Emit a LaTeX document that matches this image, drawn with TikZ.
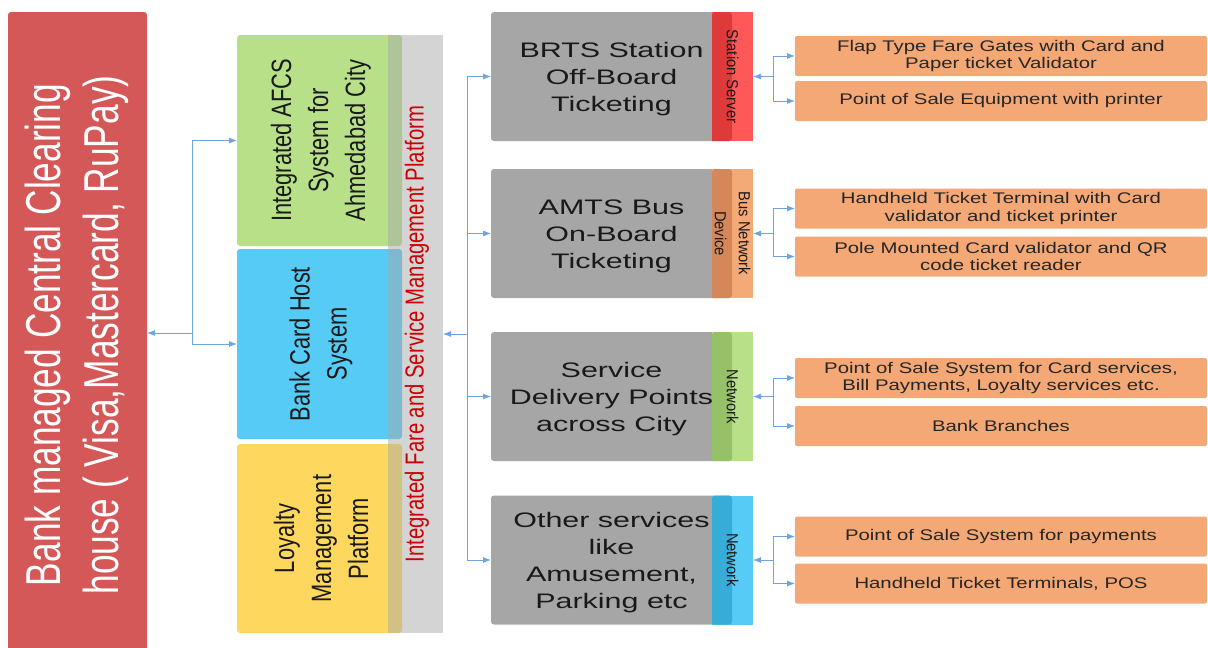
\documentclass[tikz,border=0pt]{standalone}
\usepackage{fontspec}
\usepackage{xcolor}
\setmainfont{Liberation Sans}
\newfontfamily\narrowsf[FakeStretch=0.78]{Liberation Sans}
\newfontfamily\redsf[FakeStretch=0.72]{Liberation Sans}
\newfontfamily\widesf[FakeStretch=1.45]{Liberation Sans}
\newfontfamily\orangesf[FakeStretch=1.32]{Liberation Sans}
\newfontfamily\tabsf[FakeStretch=0.92]{Liberation Sans}
\usetikzlibrary{arrows.meta}
\definecolor{clearred}{RGB}{212,88,88}
\definecolor{afcsgreen}{RGB}{183,224,137}
\definecolor{cardblue}{RGB}{86,203,246}
\definecolor{loyalyellow}{RGB}{254,216,94}
\definecolor{bargrey}{RGB}{169,169,169}
\definecolor{platred}{RGB}{204,0,0}
\definecolor{boxgrey}{RGB}{166,166,166}
\definecolor{tabred}{RGB}{255,88,88}
\definecolor{tabreddk}{RGB}{222,58,58}
\definecolor{taborange}{RGB}{244,170,118}
\definecolor{taborangedk}{RGB}{213,135,90}
\definecolor{tabgreen}{RGB}{183,224,137}
\definecolor{tabgreendk}{RGB}{150,193,104}
\definecolor{tabblue}{RGB}{86,203,246}
\definecolor{tabbluedk}{RGB}{55,172,216}
\definecolor{orangebox}{RGB}{243,168,117}
\definecolor{linkblue}{RGB}{110,165,222}

\begin{document}
\begin{tikzpicture}[x=1pt,y=-1pt,
  box/.style={rounded corners=3pt,inner sep=0pt,outer sep=0pt},
  lbox/.style={box,minimum width=165pt},
  gbox/.style={box,fill=boxgrey,minimum width=241pt,minimum height=129pt},
  tab/.style={inner sep=0pt,outer sep=0pt,minimum width=41pt,minimum height=129pt},
  obox/.style={rounded corners=2pt,fill=orangebox,inner sep=0pt,outer sep=0pt,minimum width=412pt,minimum height=40pt,align=center,text=black!85,font=\orangesf\fontsize{15.4}{17.3}\selectfont},
  ltext/.style={rotate=90,align=center,text=black!90,font=\narrowsf\fontsize{28}{37}\selectfont},
  gtext/.style={yshift=-2.5pt,align=center,text=black!90,font=\widesf\fontsize{21}{27}\selectfont},
  ttext/.style={rotate=-90,align=center,text=black!90,font=\tabsf\fontsize{16}{24}\selectfont},
  conn/.style={draw=linkblue,line width=0.8pt,-{Latex[length=8pt,width=6pt]}}]
\useasboundingbox (0,0) rectangle (1208,648);
% clearing house
\node[box,fill=clearred,minimum width=139pt,minimum height=640pt] (clear) at (77.5,332) {};
\node[rotate=90,align=center,text=white,font=\redsf\fontsize{49}{58}\selectfont] (clear-t) at (77,335) {Bank managed Central Clearing\\house ( Visa,Mastercard, RuPay)};
% host systems and platform bar
\node[lbox,fill=afcsgreen,minimum height=211pt] (afcs) at (319.5,140.5) {};
\node[lbox,fill=cardblue,minimum height=190pt] (card) at (319.5,344) {};
\node[lbox,fill=loyalyellow,minimum height=189pt] (loyal) at (319.5,538.5) {};
\node[ltext] (afcs-t) at (321,140.5) {Integrated AFCS\\System for\\Ahmedabad City};
\node[ltext] (card-t) at (321,344) {Bank Card Host\\System};
\node[ltext] (loyal-t) at (321,538.5) {Loyalty\\Management\\Platform};
\node[fill=bargrey,fill opacity=0.5,inner sep=0pt,outer sep=0pt,minimum width=55pt,minimum height=598pt] (plat) at (415.5,334) {};
\node[rotate=90,text=platred,font=\narrowsf\fontsize{26}{30}\selectfont] (plat-t) at (417,334) {Integrated Fare and Service Management Platform};
% ticketing channels
\node[gbox] (brts) at (611.5,76.5) {};
\node[gbox] (amts) at (611.5,233.5) {};
\node[gbox] (sdp) at (611.5,396.5) {};
\node[gbox] (other) at (611.5,560) {};
\node[gtext] (brts-t) at (brts) {BRTS Station\\Off-Board\\Ticketing};
\node[gtext] (amts-t) at (amts) {AMTS Bus\\On-Board\\Ticketing};
\node[gtext] (sdp-t) at (sdp) {Service\\Delivery Points\\across City};
\node[gtext] (other-t) at (other) {Other services\\like\\Amusement,\\Parking etc};
\node[tab,fill=tabred] (srv) at (732.5,76.5) {};
\fill[tabreddk,rounded corners=3pt] (srv.south west) -- ([xshift=20pt]srv.south west) -- ([xshift=20pt]srv.north west) -- (srv.north west) [sharp corners] -- cycle;
\node[ttext] (srv-t) at (srv) {Station Server};
\node[tab,fill=taborange] (bnd) at (732.5,233.5) {};
\fill[taborangedk,rounded corners=3pt] (bnd.south west) -- ([xshift=20pt]bnd.south west) -- ([xshift=20pt]bnd.north west) -- (bnd.north west) [sharp corners] -- cycle;
\node[ttext] (bnd-t) at (bnd) {Bus Network\\Device};
\node[tab,fill=tabgreen] (net1) at (732.5,396.5) {};
\fill[tabgreendk,rounded corners=3pt] (net1.south west) -- ([xshift=20pt]net1.south west) -- ([xshift=20pt]net1.north west) -- (net1.north west) [sharp corners] -- cycle;
\node[ttext] (net1-t) at (net1) {Network};
\node[tab,fill=tabblue] (net2) at (732.5,560) {};
\fill[tabbluedk,rounded corners=3pt] (net2.south west) -- ([xshift=20pt]net2.south west) -- ([xshift=20pt]net2.north west) -- (net2.north west) [sharp corners] -- cycle;
\node[ttext] (net2-t) at (net2) {Network};
% field equipment
\node[obox] (gate) at (1001,56) {Flap Type Fare Gates with Card and\\Paper ticket Validator};
\node[obox] (pose) at (1001,101) {Point of Sale Equipment with printer};
\node[obox] (htt) at (1001,208.5) {Handheld Ticket Terminal with Card\\validator and ticket printer};
\node[obox] (pole) at (1001,256.5) {Pole Mounted Card validator and QR\\code ticket reader};
\node[obox] (poss) at (1001,378) {Point of Sale System for Card services,\\Bill Payments, Loyalty services etc.};
\node[obox] (bank) at (1001,426) {Bank Branches};
\node[obox] (posp) at (1001,536.5) {Point of Sale System for payments};
\node[obox] (htts) at (1001,583.5) {Handheld Ticket Terminals, POS};
% connectors
\coordinate (jl) at (192,333);
\coordinate (jm) at (467,334);
\coordinate (j1) at (773,76.5);
\coordinate (j2) at (773,233.5);
\coordinate (j3) at (773,396.5);
\coordinate (j4) at (773,560);
\draw[conn] (jl) -- (jl -| clear.east);
\draw[conn] (jl) |- (afcs.west);
\draw[conn] (jl) |- (card.west);
\draw[conn] (jm) -- (jm -| plat.east);
\draw[conn] (jm) |- (brts.west);
\draw[conn] (jm) |- (amts.west);
\draw[conn] (jm) |- (sdp.west);
\draw[conn] (jm) |- (other.west);
\draw[conn] (j1) -- (srv.east);
\draw[conn] (j1) |- (gate.west);
\draw[conn] (j1) |- (pose.west);
\draw[conn] (j2) -- (bnd.east);
\draw[conn] (j2) |- (htt.west);
\draw[conn] (j2) |- (pole.west);
\draw[conn] (j3) -- (net1.east);
\draw[conn] (j3) |- (poss.west);
\draw[conn] (j3) |- (bank.west);
\draw[conn] (j4) -- (net2.east);
\draw[conn] (j4) |- (posp.west);
\draw[conn] (j4) |- (htts.west);
\end{tikzpicture}
\end{document}
